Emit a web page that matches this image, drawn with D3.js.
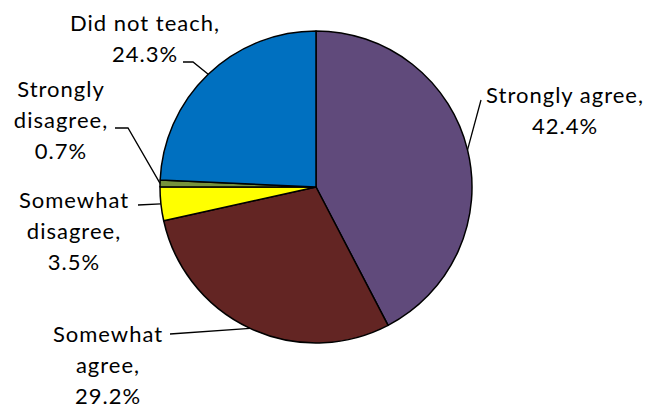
<!DOCTYPE html>
<html>
<head>
<meta charset="utf-8">
<script src="https://cdn.jsdelivr.net/npm/d3@7"></script>
<style>
  html, body { margin: 0; padding: 0; background: #fff; }
  svg { display: block; }
  .lbl { font-family: Lato, "Open Sans", sans-serif; font-size: 22px; fill: #000; letter-spacing: 1px; }
</style>
</head>
<body>
<svg width="649" height="410"></svg>
<script>
// data, clockwise from 12 o'clock
var categories = ["Strongly agree", "Somewhat agree", "Somewhat disagree", "Strongly disagree", "Did not teach"];
var values = [42.4, 29.2, 3.5, 0.7, 24.3];
var colors = ["#604A7B", "#632523", "#FFFF00", "#77933C", "#0070C0"];
// how each category name is broken over lines in its label
var nameLines = [["Strongly agree,"], ["Somewhat", "agree,"], ["Somewhat", "disagree,"], ["Strongly", "disagree,"], ["Did not teach,"]];

// label placement: text centre x, first baseline y, leader path points (after the edge point)
var labelPos = [
  { x: 565, y: 103, leader: [[481, 100]] },
  { x: 108, y: 342, leader: [[170, 334]] },
  { x: 74,  y: 208, leader: [[138, 205]] },
  { x: 61,  y: 97,  leader: [[128, 128], [115, 128]] },
  { x: 145, y: 31,  leader: [[193, 62], [183, 62]] }
];

document.addEventListener('DOMContentLoaded', function () {
  "use strict";
  var svg = d3.select("svg");
  var cx = 316, cy = 187, r = 156, lineH = 31;

  var pie = d3.pie().sort(null).value(function (d) { return d; });
  var arcs = pie(values);
  var arc = d3.arc().innerRadius(0).outerRadius(r);

  var g = svg.append("g").attr("transform", "translate(" + cx + "," + cy + ")");
  g.selectAll("path")
      .data(arcs)
    .enter().append("path")
      .attr("d", arc)
      .attr("fill", function (d, i) { return colors[i]; })
      .attr("stroke", "#000")
      .attr("stroke-width", 1.5)
      .attr("stroke-linejoin", "round");

  // leader lines start on the rim at each slice's mid angle
  svg.selectAll("path.leader")
      .data(arcs)
    .enter().append("path")
      .attr("class", "leader")
      .attr("fill", "none")
      .attr("stroke", "#000")
      .attr("stroke-width", 1.3)
      .attr("d", function (d, i) {
        var a = (d.startAngle + d.endAngle) / 2;
        var pts = [[cx + r * Math.sin(a), cy - r * Math.cos(a)]].concat(labelPos[i].leader);
        return d3.line()(pts);
      });

  var labels = svg.selectAll("text.lbl")
      .data(arcs)
    .enter().append("text")
      .attr("class", "lbl")
      .attr("text-anchor", "middle")
      .attr("x", function (d, i) { return labelPos[i].x; })
      .attr("y", function (d, i) { return labelPos[i].y; });

  labels.each(function (d, i) {
    var lines = nameLines[i].concat([values[i].toFixed(1) + "%"]);
    var t = d3.select(this);
    lines.forEach(function (s, k) {
      t.append("tspan")
        .attr("x", labelPos[i].x)
        .attr("dy", k === 0 ? 0 : lineH)
        .text(s);
    });
  });
}, false);
</script>
</body>
</html>
